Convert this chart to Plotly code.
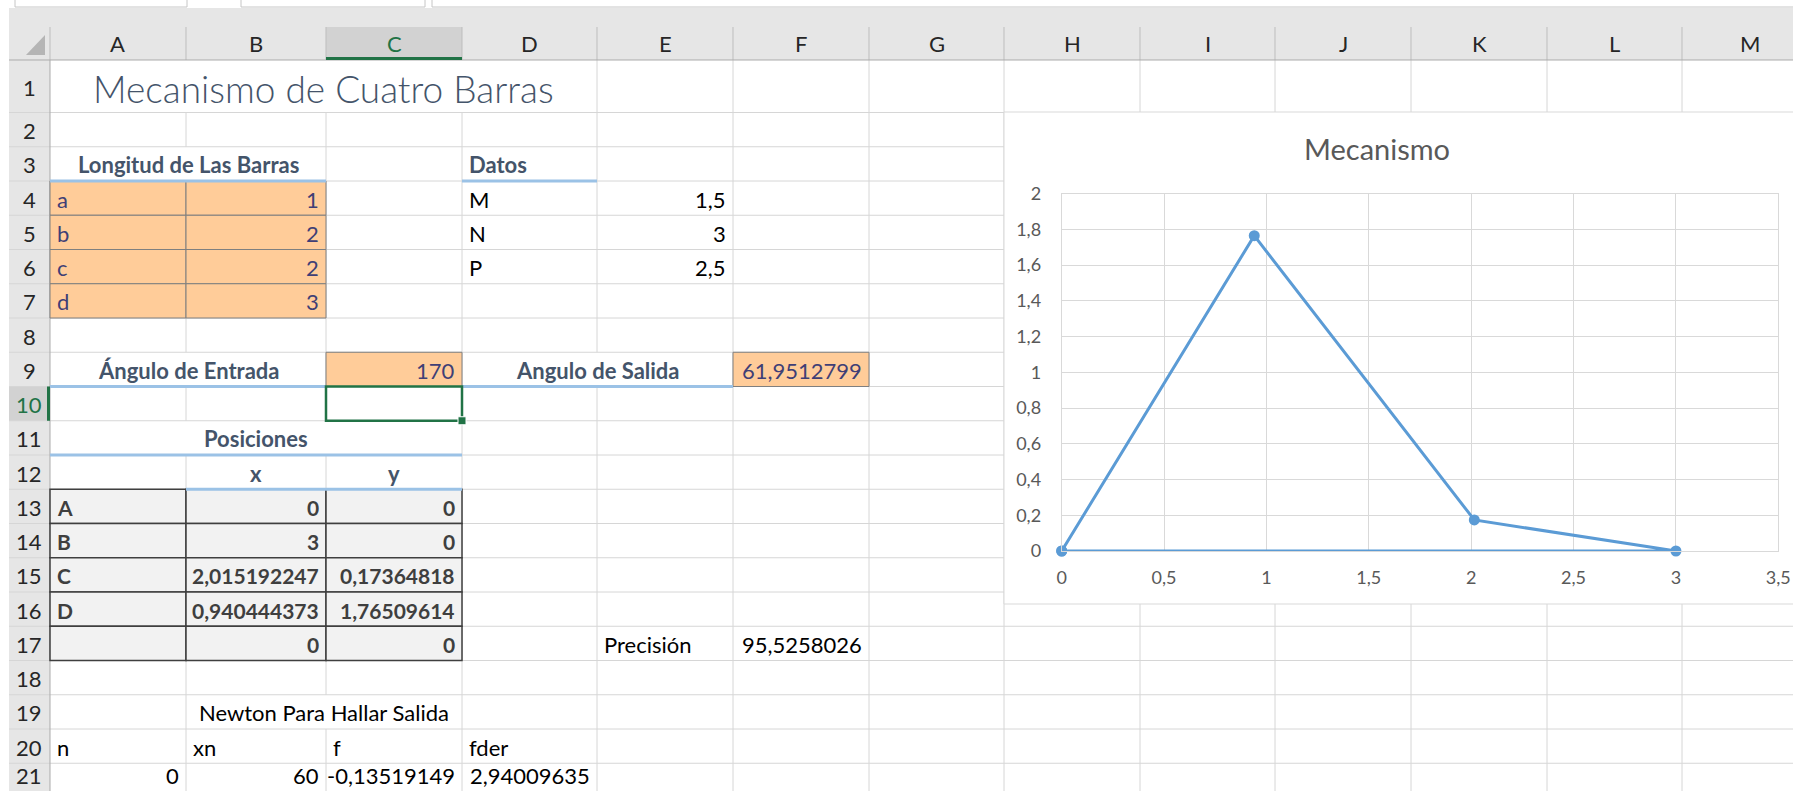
import plotly.graph_objects as go

W, H = 1793, 791

# ---------------- data ----------------
bar_names = ["a", "b", "c", "d"]
bar_lengths = [1, 2, 2, 3]
datos_names = ["M", "N", "P"]
datos_values = [1.5, 3, 2.5]
angulo_entrada = 170
angulo_salida = 61.9512799
precision = 95.5258026
point_names = ["A", "B", "C", "D", ""]
pos_x = [0, 3, 2.015192247, 0.940444373, 0]
pos_y = [0, 0, 0.17364818, 1.76509614, 0]
newton_headers = ["n", "xn", "f", "fder"]
newton_row = [0, 60, -0.13519149, 2.94009635]
col_letters = ["A", "B", "C", "D", "E", "F", "G", "H", "I", "J", "K", "L", "M"]
x_ticks = [0, 0.5, 1, 1.5, 2, 2.5, 3, 3.5]
y_ticks = [0, 0.2, 0.4, 0.6, 0.8, 1, 1.2, 1.4, 1.6, 1.8, 2]


def fmt(v):
    return str(v).replace(".", ",")


def tfmt(v):
    return f"{v:g}".replace(".", ",")


# ---------------- sheet geometry (pixels) ----------------
COLS = [50, 186, 326, 462, 597, 733, 869, 1004, 1140, 1275, 1411, 1547, 1682, 1818]


def row_top(r):
    if r == 1:
        return 60
    return 112.5 + (r - 2) * 34.25


def row_bot(r):
    return row_top(r + 1)


def X(px):
    return px / W


def Y(py):
    return 1 - py / H


shapes = []


def rect(x0, y0, x1, y1, fill=None, line=None, lw=1):
    shapes.append(dict(type="rect", xref="paper", yref="paper", layer="below",
                       x0=X(x0), x1=X(x1), y0=Y(y1), y1=Y(y0),
                       fillcolor=fill if fill else "rgba(0,0,0,0)",
                       line=dict(color=line if line else "rgba(0,0,0,0)", width=lw if line else 0)))


def hline(x0, x1, y, color, lw=1):
    shapes.append(dict(type="line", xref="paper", yref="paper", layer="below",
                       x0=X(x0), x1=X(x1), y0=Y(y), y1=Y(y), line=dict(color=color, width=lw)))


def vline(x, y0, y1, color, lw=1):
    shapes.append(dict(type="line", xref="paper", yref="paper", layer="below",
                       x0=X(x), x1=X(x), y0=Y(y0), y1=Y(y1), line=dict(color=color, width=lw)))


# top strip and header bands
rect(0, 0, W, H, fill="white")
rect(9, 8, W, 60, fill="#E6E6E6")
rect(9, 60, 50, H, fill="#E6E6E6")
rect(326, 27, 462, 60, fill="#D2D2D2")
rect(9, row_top(10), 50, row_bot(10), fill="#D2D2D2")
for bx0, bx1 in [(15, 187), (241, 425), (432, 1820)]:
    rect(bx0, -10, bx1, 7, line="#C6C6C6", lw=1)

# corner triangle
shapes.append(dict(type="path", xref="paper", yref="paper", layer="below",
                   path=f"M {X(45)} {Y(35)} L {X(45)} {Y(55)} L {X(26)} {Y(55)} Z",
                   fillcolor="#B5B5B5", line=dict(width=0)))

# merged regions hide interior vertical gridlines: (boundary index, row)
hidden = {(1, 1), (2, 1), (3, 1), (1, 3), (1, 9), (4, 9), (1, 11), (2, 11), (2, 19)}

# vertical gridlines
segs = []
for bi in range(1, len(COLS)):
    for r in range(1, 23):
        if (bi, r) in hidden:
            continue
        segs.append(f"M {X(COLS[bi])} {Y(row_top(r))} L {X(COLS[bi])} {Y(min(row_bot(r), H + 5))}")
shapes.append(dict(type="path", xref="paper", yref="paper", layer="below",
                   path=" ".join(segs), line=dict(color="#D6D6D6", width=1)))
# horizontal gridlines
segs = []
for r in range(1, 22):
    segs.append(f"M {X(9)} {Y(row_bot(r))} L {X(W)} {Y(row_bot(r))}")
shapes.append(dict(type="path", xref="paper", yref="paper", layer="below",
                   path=" ".join(segs), line=dict(color="#D6D6D6", width=1)))

# header separators
for cx in COLS:
    vline(cx, 27, 60, "#BDBDBD")
hline(9, W, 60, "#ABABAB")
vline(50, 60, H, "#ABABAB")
hline(326, 462, 58.5, "#217346", 3)
vline(48.5, row_top(10), row_bot(10), "#217346", 3)

# input cells
for i in range(len(bar_names)):
    for c in (0, 1):
        rect(COLS[c], row_top(4 + i), COLS[c + 1], row_bot(4 + i), fill="#FFCC99", line="#7F7F7F", lw=1)
rect(COLS[2], row_top(9), COLS[3], row_bot(9), fill="#FFCC99", line="#7F7F7F", lw=1)
rect(COLS[5], row_top(9), COLS[6], row_bot(9), fill="#FFCC99", line="#7F7F7F", lw=1)

# output cells
for i in range(len(point_names)):
    for c in (0, 1, 2):
        rect(COLS[c], row_top(13 + i), COLS[c + 1], row_bot(13 + i), fill="#F2F2F2", line="#3F3F3F", lw=1.5)

# heading underlines
UL = "#9BC2E6"
hline(COLS[0], COLS[2], row_bot(3), UL, 3)
hline(COLS[3], COLS[4], row_bot(3), UL, 3)
hline(COLS[0], COLS[2], row_bot(9), UL, 3)
hline(COLS[3], COLS[5], row_bot(9), UL, 3)
hline(COLS[0], COLS[3], row_bot(11), UL, 3)
hline(COLS[1], COLS[3], row_bot(12), UL, 3)

# selection C10
rect(COLS[2], row_top(10), COLS[3], row_bot(10), line="#217346", lw=2.5)

# chart area
rect(1004, 112, 1830, 604, fill="white", line="#D9D9D9", lw=1)

# selection handle
rect(COLS[3] - 4, row_bot(10) - 4, COLS[3] + 4, row_bot(10) + 4, fill="#217346", line="white", lw=1)

# ---------------- text ----------------
annotations = []
FONT = "Lato"


def text(x, y, s, anchor, size=22, color="#000000", bold=False, weight=None, yanchor="middle"):
    f = dict(family=FONT, size=size, color=color)
    if bold:
        f["weight"] = "bold"
    if weight is not None:
        f["weight"] = weight
    annotations.append(dict(x=X(x), y=Y(y), xref="paper", yref="paper", text=s,
                            showarrow=False, xanchor=anchor, yanchor=yanchor, font=f))


def row_y(r):
    # last visible row is clipped by the window: keep its text box inside
    if r == 21:
        return H, "bottom"
    return (row_top(r) + row_bot(r)) / 2 + 1, "middle"


def cell(c, r, s, align="left", end=None, **kw):
    yc, ya = row_y(r)
    if align == "left":
        text(COLS[c] + 5, yc, s, "left", yanchor=ya, **kw)
    elif align == "right":
        text(COLS[c + 1] - 5, yc, s, "right", yanchor=ya, **kw)
    else:
        e = end if end is not None else c
        text((COLS[c] + COLS[e + 1]) / 2, yc, s, "center", yanchor=ya, **kw)


HEAD = dict(bold=True, color="#44546A")
INP = dict(color="#3F3F76")
OUT = dict(bold=True, color="#3F3F3F", size=21)

# column / row headers
for i, L in enumerate(col_letters):
    text((COLS[i] + COLS[i + 1]) / 2, 44, L, "center", size=22,
         color="#217346" if L == "C" else "#262626")
for r in range(1, 22):
    yc, ya = row_y(r)
    text(29.5, yc, str(r), "center", size=22, yanchor=ya,
         color="#217346" if r == 10 else "#262626")

text(323.5, 88, "Mecanismo de Cuatro Barras", "center", size=37, color="#44546A", weight=300)
cell(0, 3, "Longitud de Las Barras", "center", end=1, **HEAD)
cell(3, 3, "Datos", "left", **HEAD)
for i, (n, v) in enumerate(zip(bar_names, bar_lengths)):
    cell(0, 4 + i, n, "left", **INP)
    cell(1, 4 + i, fmt(v), "right", **INP)
for i, (n, v) in enumerate(zip(datos_names, datos_values)):
    cell(3, 4 + i, n, "left")
    cell(4, 4 + i, fmt(v), "right")
cell(0, 9, "Ángulo de Entrada", "center", end=1, **HEAD)
cell(2, 9, fmt(angulo_entrada), "right", **INP)
cell(3, 9, "Angulo de Salida", "center", end=4, **HEAD)
cell(5, 9, fmt(angulo_salida), "right", **INP)
cell(0, 11, "Posiciones", "center", end=2, **HEAD)
cell(1, 12, "x", "center", **HEAD)
cell(2, 12, "y", "center", **HEAD)
for i, (n, px, py) in enumerate(zip(point_names, pos_x, pos_y)):
    if n:
        cell(0, 13 + i, n, "left", **OUT)
    cell(1, 13 + i, fmt(px), "right", **OUT)
    cell(2, 13 + i, fmt(py), "right", **OUT)
cell(4, 17, "Precisión", "left")
cell(5, 17, fmt(precision), "right")
cell(1, 19, "Newton Para Hallar Salida", "center", end=2)
for i, h in enumerate(newton_headers):
    cell(i, 20, h, "left")
for i, v in enumerate(newton_row):
    cell(i, 21, fmt(v), "right")

# chart title
text(1377, 148, "Mecanismo", "center", size=29, color="#595959")

# ---------------- chart ----------------
fig = go.Figure()
fig.add_trace(go.Scatter(x=pos_x, y=pos_y, mode="lines+markers",
                         line=dict(color="#5B9BD5", width=3),
                         marker=dict(color="#5B9BD5", size=11),
                         cliponaxis=False, showlegend=False, hoverinfo="skip"))

fig.update_layout(
    width=W, height=H, margin=dict(l=0, r=0, t=0, b=0, pad=0, autoexpand=False),
    paper_bgcolor="white", plot_bgcolor="rgba(0,0,0,0)",
    shapes=shapes, annotations=annotations, showlegend=False,
    xaxis=dict(domain=[X(1061.7), X(1778.3)], range=[0, 3.5], automargin=False,
               tickmode="array", tickvals=x_ticks, ticktext=[tfmt(v) for v in x_ticks],
               showgrid=True, gridcolor="#D9D9D9", gridwidth=1, zeroline=False,
               showline=True, mirror=True, linecolor="#D9D9D9", linewidth=1,
               ticks="", ticklabelstandoff=10,
               tickfont=dict(family=FONT, size=18, color="#595959"), fixedrange=True),
    yaxis=dict(domain=[Y(551), Y(193.7)], range=[0, 2], automargin=False,
               tickmode="array", tickvals=y_ticks, ticktext=[tfmt(v) for v in y_ticks],
               showgrid=True, gridcolor="#D9D9D9", gridwidth=1, zeroline=False,
               showline=True, mirror=True, linecolor="#D9D9D9", linewidth=1,
               ticks="", ticklabelstandoff=16,
               tickfont=dict(family=FONT, size=18, color="#595959"), fixedrange=True),
)

fig.write_html("out.html", config={"displayModeBar": False, "staticPlot": True},
               post_script="document.body.style.margin='0';document.body.style.overflow='hidden';")
